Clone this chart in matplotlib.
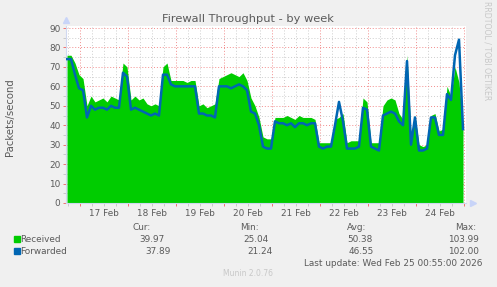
import matplotlib
matplotlib.use("Agg")
import matplotlib.pyplot as plt
import matplotlib.dates as mdates
import matplotlib.transforms as mtransforms
from matplotlib.patches import Rectangle
import pandas as pd

# munin firewall graph, one week, 2 hour samples
times = pd.date_range("2026-02-16 17:25", periods=100, freq="2h")
received = [76, 76, 72, 66, 64, 50, 55, 52, 53, 54,
            52, 55, 54, 53, 72, 70, 53, 55, 53, 54,
            51, 50, 51, 50, 70, 72, 63, 63, 63, 63,
            62, 63, 63, 50, 51, 49, 50, 51, 64, 65,
            66, 67, 66, 65, 67, 63, 54, 50, 44, 34,
            33, 33, 44, 44, 44, 45, 44, 43, 45, 44,
            44, 44, 43, 31, 31, 31, 31, 43, 44, 46,
            31, 32, 32, 32, 54, 52, 31, 31, 31, 50,
            53, 54, 53, 46, 43, 76, 35, 45, 30, 29,
            30, 45, 46, 37, 38, 60, 55, 70, 62, 40]
forwarded = [74, 74, 66, 59, 58, 44, 50, 48, 49, 49,
             48, 50, 49, 49, 67, 65, 48, 49, 48, 47,
             46, 45, 46, 45, 66, 66, 61, 60, 60, 60,
             60, 60, 60, 46, 46, 45, 45, 44, 60, 60,
             60, 59, 60, 61, 60, 58, 47, 46, 40, 29,
             28, 28, 42, 41, 41, 40, 41, 39, 41, 41,
             40, 41, 41, 29, 28, 29, 29, 40, 52, 42,
             28, 28, 28, 29, 49, 48, 29, 28, 27, 45,
             46, 47, 46, 42, 40, 73, 30, 44, 27, 27,
             28, 44, 44, 35, 35, 56, 53, 76, 84, 38]

days = pd.date_range("2026-02-17", periods=8, freq="D")
day_labels = [d.strftime("%d %b") for d in days]

legend_names = ["Received", "Forwarded"]
legend_colors = ["#00CC00", "#0066B3"]
cur = ["39.97", "37.89"]
mins = ["25.04", "21.24"]
avgs = ["50.38", "46.55"]
maxs = ["103.99", "102.00"]

txt = "#5a5a5a"
fs = 6.4

fig = plt.figure(figsize=(4.97, 2.87), dpi=100, facecolor="#F0F0F0")
ax = fig.add_axes([66 / 497, 84 / 287, 400 / 497, 177 / 287])
ax.set_facecolor("white")

ax.fill_between(times, received, color=legend_colors[0], lw=0, zorder=2)
ax.plot(times, forwarded, color=legend_colors[1], lw=1.8, zorder=3)

ax.set_xlim(pd.Timestamp("2026-02-16 16:55"), pd.Timestamp("2026-02-25 00:55"))
ax.set_ylim(0, 91.03)

ax.xaxis.set_major_locator(mdates.DayLocator())
ax.xaxis.set_minor_locator(mdates.HourLocator(byhour=[6, 12, 18]))
ax.xaxis.set_major_formatter(plt.NullFormatter())
ax.set_yticks(range(0, 91, 10))
ax.set_yticks(range(5, 91, 10), minor=True)

ax.grid(which="major", color="#F08080", lw=0.7, ls=(0, (1, 2)), alpha=0.9, zorder=1)
ax.grid(which="minor", color="#C8C8C8", lw=0.7, ls=(0, (1, 2)), alpha=0.9, zorder=1)
ax.set_axisbelow(True)

ax.tick_params(which="major", length=2, width=0.7, color="#F07070",
               labelsize=fs, labelcolor=txt, pad=2)
ax.tick_params(which="minor", length=2, width=0.7, color="#C8C8C8")

for s in ["top", "right"]:
    ax.spines[s].set_visible(False)
for s in ["left", "bottom"]:
    ax.spines[s].set_color("#D0D8F0")
    ax.spines[s].set_linewidth(0.8)

# axis arrows
ax.plot([0], [1.035], marker="^", color="#C8D4F8", ms=5, clip_on=False,
        transform=ax.transAxes)
ax.plot([1.018], [0], marker=">", color="#C8D4F8", ms=5, clip_on=False,
        transform=ax.transAxes)

trans = mtransforms.blended_transform_factory(ax.transData, fig.transFigure)
for d, lab in zip(days, day_labels):
    ax.text(d + pd.Timedelta(hours=12), 1 - 213 / 287, lab, transform=trans,
            ha="center", va="center", fontsize=fs, color=txt)

fig.text(248 / 497, 1 - 19 / 287, "Firewall Throughput - by week",
         ha="center", va="center", fontsize=8.2, color=txt)
fig.text(10 / 497, 1 - 117 / 287, "Packets/second", rotation=90,
         ha="center", va="center", fontsize=7.3, color=txt)
fig.text(487 / 497, 1 - 51 / 287, "RRDTOOL / TOBI OETIKER", rotation=270,
         ha="center", va="center", fontsize=5.6, color="#C8C8C8")

# legend table
def ftext(x, y, s, **kw):
    fig.text(x / 497, 1 - y / 287, s, fontsize=fs, color=txt, va="center", **kw)

ftext(151, 227, "Cur:", ha="right")
ftext(259, 227, "Min:", ha="right")
ftext(366, 227, "Avg:", ha="right")
ftext(476, 227, "Max:", ha="right")
for k in range(2):
    y = 239 + 12 * k
    fig.patches.append(Rectangle((14 / 497, 1 - (y + 3) / 287), 6 / 497, 6 / 287,
                                 transform=fig.transFigure,
                                 color=legend_colors[k]))
    ftext(20, y, legend_names[k], ha="left")
    ftext(165 + 6 * k, y, cur[k], ha="right")
    ftext(269 + 4 * k, y, mins[k], ha="right")
    ftext(373 + k, y, avgs[k], ha="right")
    ftext(479, y, maxs[k], ha="right")
ftext(482, 263, "Last update: Wed Feb 25 00:55:00 2026", ha="right")
fig.text(248 / 497, 1 - 274 / 287, "Munin 2.0.76", ha="center", va="center",
         fontsize=5.5, color="#C8C8C8")

fig.savefig("out.png", dpi=100, facecolor=fig.get_facecolor())
